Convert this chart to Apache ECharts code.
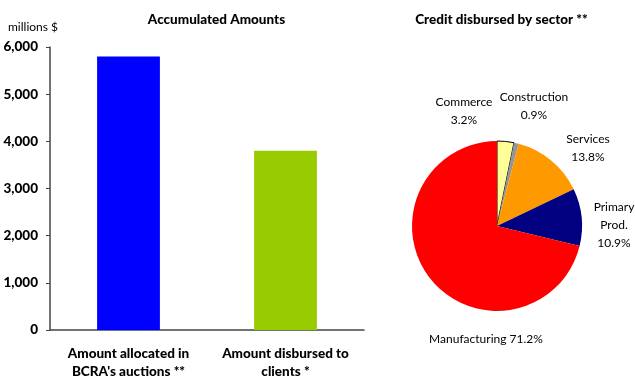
<!DOCTYPE html>
<html>
<head>
<meta charset="utf-8">
<script src="https://cdn.jsdelivr.net/npm/echarts@6/dist/echarts.min.js"></script>
<style>
  html, body { margin: 0; padding: 0; background: #fff; }
  #chart { width: 635px; height: 376px; }
</style>
</head>
<body>
<div id="chart"></div>
<script>
// Accumulated amounts (millions $)
const barCategories = ["Amount allocated in\nBCRA's auctions **", "Amount disbursed to\nclients *"];
const barValues = [5800, 3800];
const barColors = ['#0000FF', '#99CC00'];

// Credit disbursed by sector (%)
const sectorNames = ['Commerce', 'Construction', 'Services', 'Primary\nProd.', 'Manufacturing'];
const sectorShares = [3.2, 0.9, 13.8, 10.9, 71.2];
const sectorColors = ['#FFFF99', '#969696', '#FF9900', '#000080', '#FF0000'];

const FONT = 'Lato, "DejaVu Sans", sans-serif';

// label anchor points around the pie, one per sector
const pieLabelSpots = [
  { x: 464, y: 111 },
  { x: 534, y: 106 },
  { x: 588, y: 148 },
  { x: 614, y: 225 },
  { x: 486, y: 339 }
];

const chart = echarts.init(document.getElementById('chart'), null, { renderer: 'canvas' });

chart.setOption({
  animation: false,
  backgroundColor: '#fff',
  title: [
    {
      text: 'Accumulated Amounts',
      left: 216.5, top: 13, padding: 0, textAlign: 'center',
      textStyle: { fontFamily: FONT, fontSize: 13.5, fontWeight: 900, color: '#000' }
    },
    {
      text: 'Credit disbursed by sector **',
      left: 501.5, top: 13, padding: 0, textAlign: 'center',
      textStyle: { fontFamily: FONT, fontSize: 13.5, fontWeight: 900, color: '#000' }
    },
    {
      text: 'millions $',
      left: 8, top: 21, padding: 0,
      textStyle: { fontFamily: FONT, fontSize: 12, fontWeight: 'normal', color: '#000' }
    }
  ],
  grid: { left: 50, right: 271, top: 47, bottom: 46, containLabel: false, outerBoundsMode: 'none' },
  xAxis: {
    type: 'category',
    data: barCategories,
    axisLine: { lineStyle: { color: '#444', width: 1.5 } },
    axisTick: { show: false },
    axisLabel: {
      interval: 0, margin: 15, lineHeight: 17.5,
      fontFamily: FONT, fontSize: 13.5, fontWeight: 900, color: '#000'
    }
  },
  yAxis: {
    type: 'value',
    min: 0, max: 6000, interval: 1000,
    axisLine: { show: true, lineStyle: { color: '#444', width: 1.5 } },
    axisTick: { show: true, length: 4, lineStyle: { color: '#444' } },
    splitLine: { show: false },
    axisLabel: {
      margin: 12,
      fontFamily: FONT, fontSize: 13.5, fontWeight: 900, color: '#000',
      formatter: v => v.toLocaleString('en-US')
    }
  },
  series: [
    {
      type: 'bar',
      barWidth: '40%',
      data: barValues.map((v, i) => ({ value: v, itemStyle: { color: barColors[i] } }))
    },
    {
      type: 'pie',
      center: [497, 226],
      radius: 85,
      startAngle: 90,
      clockwise: true,
      avoidLabelOverlap: false,
      labelLine: { show: false },
      label: {
        show: true,
        position: 'outside',
        fontFamily: FONT, fontSize: 12, color: '#000',
        lineHeight: 18, align: 'center',
        formatter: p => p.dataIndex === 4
          ? p.name + ' ' + p.value.toFixed(1) + '%'
          : p.name + '\n' + p.value.toFixed(1) + '%'
      },
      labelLayout: p => {
        const s = pieLabelSpots[p.dataIndex];
        return { x: s.x, y: s.y, align: 'center', verticalAlign: 'middle' };
      },
      data: sectorShares.map((v, i) => ({
        name: sectorNames[i],
        value: v,
        itemStyle: i === 0
          ? { color: sectorColors[i], borderColor: '#000', borderWidth: 1 }
          : { color: sectorColors[i], borderWidth: 0 }
      }))
    }
  ]
});
</script>
</body>
</html>
